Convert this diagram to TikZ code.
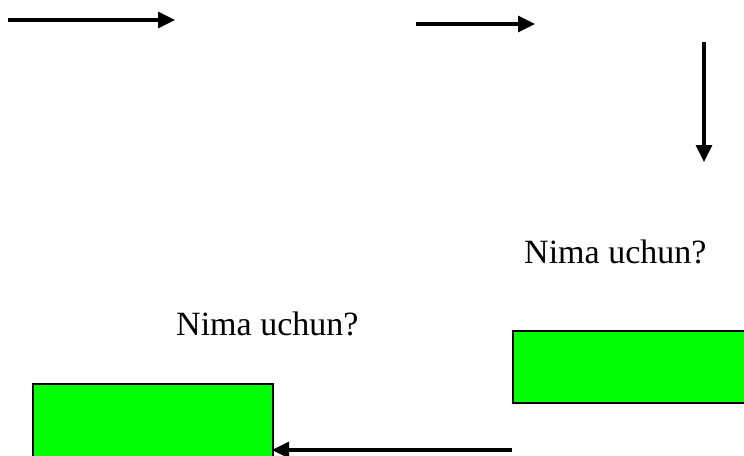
\documentclass[tikz,border=0pt]{standalone}
\usepackage{fontspec}
\setmainfont{Liberation Serif}
\usetikzlibrary{arrows.meta}
\begin{document}
\begin{tikzpicture}[x=1pt,y=-1pt,
  conn/.style={line width=3.2pt,-{Triangle[length=17pt,width=16pt]}},
  gbox/.style={draw=black,line width=2pt,fill=green,rectangle,inner sep=0pt,anchor=north west},
  lbl/.style={font=\fontsize{34}{40}\selectfont,anchor=base west,inner sep=0pt}]
\useasboundingbox (0,0) rectangle (744,455);
\clip (0,0) rectangle (744,455);
\coordinate (a1s) at (8,20);
\coordinate (a1e) at (175,20);
\coordinate (a2s) at (416,24);
\coordinate (a2e) at (535,24);
\coordinate (a3s) at (704,42);
\coordinate (a3e) at (704,162);
\node[gbox,minimum width=240pt,minimum height=90pt] (lbox) at (32,383) {};
\node[gbox,minimum width=250pt,minimum height=72pt] (rbox) at (512,330) {};
\coordinate (a4s) at (512,450);
\coordinate (a4e) at (lbox.west |- a4s);
\node[lbl] (q1) at (524,263) {Nima uchun?};
\node[lbl] (q2) at (176,335) {Nima uchun?};
\draw[conn] (a1s) -- (a1e);
\draw[conn] (a2s) -- (a2e);
\draw[conn] (a3s) -- (a3e);
\draw[conn] (a4s) -- ([xshift=240pt]a4e);
\end{tikzpicture}
\end{document}
